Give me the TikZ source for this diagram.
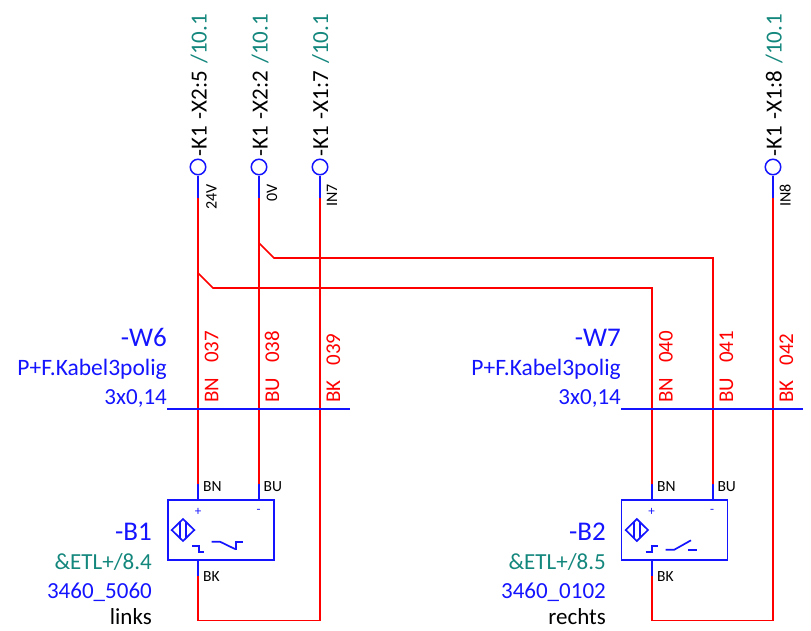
\documentclass[tikz,border=0pt]{standalone}
\usepackage{fontspec}
\setmainfont{Carlito}
\definecolor{wirered}{RGB}{255,0,0}
\definecolor{eblue}{RGB}{20,20,255}
\definecolor{eteal}{RGB}{20,135,125}
\tikzset{
  redwire/.style={draw=wirered,line width=1.7pt,line join=miter},
  bluewire/.style={draw=eblue,line width=1.7pt},
  symb/.style={draw=eblue,line width=1.7pt},
  term/.style={circle,draw=eblue,line width=1.5pt,minimum size=15.5pt,inner sep=0pt},
  sensor/.style={rectangle,draw=eblue,line width=1.6pt,minimum width=106pt,minimum height=60pt,inner sep=0pt},
  vlabel/.style={rotate=90,anchor=base west,inner sep=0pt,font=\fontsize{23pt}{23pt}\selectfont},
  wlabel/.style={rotate=90,anchor=base east,inner sep=0pt,font=\fontsize{16pt}{16pt}\selectfont,text=black},
  clabel/.style={rotate=90,anchor=base west,inner sep=0pt,font=\fontsize{21pt}{21pt}\selectfont,text=wirered},
  rtitle/.style={anchor=base east,inner sep=0pt,font=\fontsize{27pt}{27pt}\selectfont,text=eblue},
  rtext/.style={anchor=base east,inner sep=0pt,font=\fontsize{23pt}{23pt}\selectfont},
  rlong/.style={rtext,font=\fontsize{23.5pt}{23.5pt}\selectfont},
  pin/.style={anchor=base west,inner sep=0pt,font=\fontsize{15.5pt}{15.5pt}\selectfont,text=black},
  sign/.style={inner sep=0pt,font=\fontsize{13pt}{13pt}\selectfont,text=eblue},
}
\newcommand{\klabel}[1]{{\color{black}-K1\hspace{7pt}#1}\hspace{7pt}{\color{eteal}/10.1}}
\newcommand{\clab}[2]{#1\hspace{15pt}#2}
\begin{document}
\begin{tikzpicture}[x=1pt,y=-1pt]
\useasboundingbox (0,0) rectangle (811,630);
% terminals
\node[term] (t1) at (198,167) {};
\node[term] (t2) at (259,167) {};
\node[term] (t3) at (320,167) {};
\node[term] (t4) at (773,167) {};
% sensors
\node[sensor] (b1) at (221,530) {};
\node[sensor] (b2) at (674.5,530) {};
% wire points
\coordinate (c1) at (198,198);
\coordinate (c2) at (259,198);
\coordinate (c3) at (320,198);
\coordinate (c4) at (773,198);
\coordinate (p1) at (198,484);
\coordinate (p2) at (259,484);
\coordinate (p3) at (652,484);
\coordinate (p4) at (713,484);
\coordinate (q1) at (198,576);
\coordinate (q2) at (652,576);
% blue stubs
\draw[bluewire] (t1.south) -- (c1);
\draw[bluewire] (t2.south) -- (c2);
\draw[bluewire] (t3.south) -- (c3);
\draw[bluewire] (t4.south) -- (c4);
\draw[bluewire] (p1) -- (p1 |- b1.north);
\draw[bluewire] (p2) -- (p2 |- b1.north);
\draw[bluewire] (p3) -- (p3 |- b2.north);
\draw[bluewire] (p4) -- (p4 |- b2.north);
\draw[bluewire] (q1 |- b1.south) -- (q1);
\draw[bluewire] (q2 |- b2.south) -- (q2);
% red wires
\draw[redwire] (c1) -- (p1);
\draw[redwire] (c2) -- (p2);
\draw[redwire] (q1) -- (198,620.5) -- (320,620.5) -- (c3);
\draw[redwire] (q2) -- (652,620.5) -- (773,620.5) -- (c4);
\draw[redwire] (198,273) -- (213,288) -- (652,288) -- (p3);
\draw[redwire] (259,243) -- (274,258) -- (713,258) -- (p4);
% cable bars
\coordinate (w6a) at (167,409);
\coordinate (w6b) at (350,409);
\coordinate (w7a) at (621,409);
\coordinate (w7b) at (803,409);
\draw[bluewire] (w6a) -- (w6b);
\draw[bluewire] (w7a) -- (w7b);
% terminal labels
\node[vlabel] (k1) at (206.5,157) {\klabel{-X2:5}};
\node[vlabel] (k2) at (267.5,157) {\klabel{-X2:2}};
\node[vlabel] (k3) at (328,157) {\klabel{-X1:7}};
\node[vlabel] (k4) at (781.5,157) {\klabel{-X1:8}};
% signal labels
\node[wlabel] (s1) at (216.5,184) {24V};
\node[wlabel] (s2) at (277,184) {0V};
\node[wlabel] (s3) at (337,184) {IN7};
\node[wlabel] (s4) at (790.5,184) {IN8};
% conductor labels
\node[clabel] (n1) at (218.3,403) {\clab{BN}{037}};
\node[clabel] (n2) at (279,403) {\clab{BU}{038}};
\node[clabel] (n3) at (340,403) {\clab{BK}{039}};
\node[clabel] (n4) at (672.7,403) {\clab{BN}{040}};
\node[clabel] (n5) at (733,403) {\clab{BU}{041}};
\node[clabel] (n6) at (793,403) {\clab{BK}{042}};
% cable texts
\node[rtitle] (w6) at (167,346) {-W6};
\node[rlong,text=eblue] (w6t) at (167,375) {P+F.Kabel3polig};
\node[rtext,text=eblue] (w6s) at (167,404) {3x0,14};
\node[rtitle] (w7) at (621,346) {-W7};
\node[rlong,text=eblue] (w7t) at (621,375) {P+F.Kabel3polig};
\node[rtext,text=eblue] (w7s) at (621,404) {3x0,14};
% device texts
\node[rtitle] (d1) at (152,540.5) {-B1};
\node[rtext,text=eteal] (d1a) at (152,569.5) {\&ETL+/8.4};
\node[rtext,text=eblue] (d1b) at (152,598) {3460\_5060};
\node[rtext,text=black] (d1c) at (152,624.5) {links};
\node[rtitle] (d2) at (606,540.5) {-B2};
\node[rtext,text=eteal] (d2a) at (606,569.5) {\&ETL+/8.5};
\node[rtext,text=eblue] (d2b) at (606,598) {3460\_0102};
\node[rtext,text=black] (d2c) at (606,624.5) {rechts};
% pin labels
\node[pin] (pa) at (203,491) {BN};
\node[pin] (pb) at (263.5,491) {BU};
\node[pin] (pc) at (203,581) {BK};
\node[pin] (pd) at (657,491) {BN};
\node[pin] (pe) at (717.3,491) {BU};
\node[pin] (pf) at (657,581) {BK};
\node[sign] (sa) at (198,511.5) {+};
\node[sign] (sb) at (258.5,511.5) {-};
\node[sign] (sc) at (651.5,511.5) {+};
\node[sign] (sd) at (712,511.5) {-};
% B1 symbol
\draw[symb] (171.7,530) -- (183,519) -- (194.3,530) -- (183,541) -- cycle;
\draw[symb] (180,522) -- (180,538);
\draw[symb] (186,522) -- (186,538);
\draw[symb] (192,545.7) -- (198.7,545.7) -- (198.7,551.7) -- (204.3,551.7);
\draw[symb] (211.7,541.7) -- (220,541.7) -- (235,549);
\draw[symb] (236,550) -- (236,542.3) -- (243.3,542.3);
% B2 symbol
\draw[symb] (625.7,530) -- (636.8,519) -- (648,530) -- (636.8,541) -- cycle;
\draw[symb] (633.8,522) -- (633.8,538);
\draw[symb] (639.8,522) -- (639.8,538);
\draw[symb] (645.7,551.7) -- (651.7,551.7) -- (651.7,545.7) -- (658.3,545.7);
\draw[symb] (665.7,549.7) -- (674.3,549.7) -- (691,540.3);
\draw[symb] (688.3,549.7) -- (697,549.7);
\end{tikzpicture}
\end{document}
